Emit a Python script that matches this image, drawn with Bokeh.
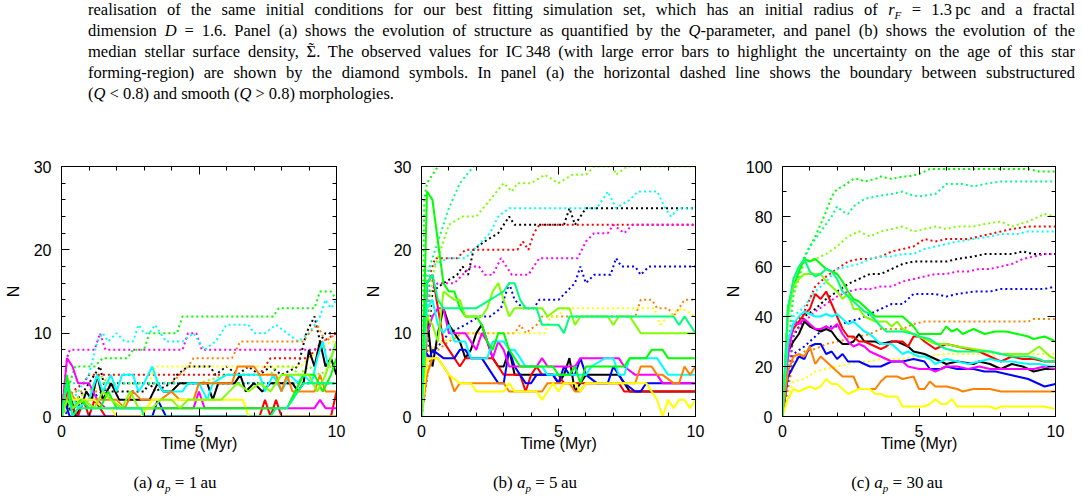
from bokeh.plotting import figure
from bokeh.models import (LinearAxis, SingleIntervalTicker, CustomJSTickFormatter,
                          Range1d, Div)
from bokeh.layouts import column, row
from bokeh.embed import file_html
from bokeh.resources import INLINE

# ---------------------------------------------------------------------------
# Number of stars N against time (Myr); (t, N) samples for each run.
# "_S" = solid line, "_D" = dotted line.
# ---------------------------------------------------------------------------

# ---- panel (a): a_p = 1 au ----
A_BLACK_D = [(0,0),(0.3,1),(0.8,3),(1.2,5),(1.4,6),(1.6,3),(2.6,3),(3.0,3),(3.2,4),(3.4,3),(4.0,4),(4.2,5),(4.6,6),(5.4,6),(5.6,5),(6.0,6),(6.4,5),(6.8,6),(7.2,5),(7.6,6),(8.0,5),(8.6,6),(8.9,10),(9.2,12),(9.4,9),(9.6,10),(10,10)]
A_RED_D = [(0,0),(0.4,3),(0.8,4),(1.0,5),(7.2,5),(7.4,6),(7.6,7),(9.0,7),(9.2,8),(9.5,9),(10,10)]
A_BLUE_D = [(0,0),(0.4,1),(1.0,2),(2.0,4),(10,4)]
A_MAGENTA_D = [(0,0),(0.2,7),(0.3,8),(1.2,8),(1.4,10),(1.6,8),(4.4,8),(4.6,10),(4.9,10),(5.1,8),(10,8)]
A_CYAN_D = [(0,0),(0.4,2),(1.0,5),(1.3,9),(1.5,10),(1.7,9),(2.0,10),(2.3,9),(2.6,9),(2.8,11),(3.0,10),(3.2,10),(3.4,11),(3.6,10),(3.8,9),(4.4,9),(4.8,10),(5.0,9),(5.2,8),(5.6,9),(6.0,11),(6.8,11),(7.0,10),(7.4,10),(7.8,11),(8.2,10),(8.6,9),(9.0,10),(9.4,12),(9.6,14),(9.8,13),(10,14)]
A_ORANGE_D = [(0,0),(0.4,3),(1.4,3),(2.0,4),(4.0,4),(4.6,6),(4.8,7),(6.2,7),(6.5,9),(8.8,9),(9.0,10),(9.3,11),(9.6,9),(10,10)]
A_YELLOW_D = [(0,0),(0.4,2),(1.0,3),(1.6,4),(3.2,4),(3.4,6),(8.7,6),(9.0,7),(9.4,8),(9.8,9),(10,9)]
A_GREEN_D = [(0,0),(0.3,4),(0.5,6),(1.2,6),(1.5,7),(2.4,7),(2.6,8),(3.0,8),(3.2,10),(4.2,10),(4.4,12),(7.7,12),(7.9,13),(9.2,13),(9.4,15),(9.8,15),(10,14)]
A_LIME_D = [(0,0),(0.4,2),(1.0,3),(1.4,5),(1.7,4),(5.0,4),(6.0,5),(7.6,5),(7.8,6),(8.4,6),(8.6,5),(9.0,6),(9.4,5),(9.8,6),(10,6)]
A_SPRING_D = [(0,0),(0.2,4),(10,4)]

A_BLACK_S = [(0,0),(0.1,2),(0.2,1),(0.3,3),(0.5,0),(0.7,1),(0.9,3),(1.1,2),(1.3,5),(1.5,2),(1.8,4),(2.1,2),(3.2,2),(3.5,4),(3.7,3),(4.0,3),(4.3,4),(5.3,4),(5.5,2),(5.7,4),(6.3,4),(6.5,5),(6.7,3),(7.0,4),(7.3,3),(7.6,4),(8.4,4),(8.6,3),(8.8,4),(9.0,8),(9.2,6),(9.4,9),(9.6,6),(9.8,7),(10,5)]
A_RED_S = [(0,0),(0.2,3),(0.4,1),(0.6,0),(0.8,2),(1.0,0),(1.2,2),(1.4,1),(1.6,0),(7.2,0),(7.4,2),(7.6,0),(7.8,2),(8.0,0),(9.8,0),(10,3)]
A_BLUE_S = [(0,0),(0.1,2),(0.3,0),(3.3,0),(3.5,2),(3.8,0),(10,0)]
A_MAGENTA_S = [(0,0),(0.2,7),(0.4,6),(0.6,4),(1.0,4),(1.3,2),(1.6,1),(4.8,1),(5.0,3),(5.2,1),(9.2,1),(9.4,2),(9.6,1),(10,1)]
A_CYAN_S = [(0,0),(0.3,3),(0.6,1),(1.0,2),(1.3,5),(1.5,3),(1.8,5),(2.0,3),(2.2,5),(2.6,5),(2.8,3),(3.0,4),(3.3,6),(3.5,4),(3.7,3),(4.4,3),(4.6,4),(5.0,4),(5.3,2),(5.5,4),(6.0,5),(7.2,5),(7.4,3),(7.7,5),(8.0,3),(8.3,5),(8.6,4),(8.8,5),(9.1,4),(9.3,7),(9.5,9),(9.7,6),(10,9)]
A_ORANGE_S = [(0,0),(0.3,3),(0.5,2),(2.0,2),(2.3,1),(2.6,3),(2.9,2),(3.6,2),(4.0,3),(4.3,2),(4.8,2),(5.0,4),(6.2,4),(6.4,6),(7.0,6),(7.2,5),(7.8,5),(8.0,3),(8.2,5),(8.4,3),(9.2,3),(9.4,5),(9.6,3),(10,3)]
A_YELLOW_S = [(0,0),(0.2,4),(0.4,2),(1.2,2),(1.5,1),(1.8,1),(2.0,0),(2.9,0),(3.3,2),(6.6,2),(6.8,0),(10,0)]
A_GREEN_S = [(0,0),(0.2,5),(0.4,1),(0.7,2),(1.0,1),(1.4,1),(1.7,3),(2.0,1),(8.2,1),(8.5,3),(8.8,5),(9.2,5),(9.5,3),(9.8,5),(10,7)]
A_LIME_S = [(0,0),(0.2,2),(0.4,1),(0.8,2),(1.2,1),(1.5,3),(1.8,2),(2.2,1),(2.5,3),(2.8,1),(3.3,1),(3.6,2),(4.0,2),(4.3,1),(4.6,2),(5.8,2),(6.4,4),(6.8,3),(7.2,4),(7.6,3),(8.0,5),(9.0,5),(9.3,3),(9.6,5),(10,9)]
A_SPRING_S = [(0,0),(0.2,4),(0.4,0),(0.6,1),(2.9,1),(3.0,0),(7.6,0),(7.8,1),(8.2,1),(8.6,3),(8.8,4),(10,4)]

# ---- panel (b): a_p = 5 au ----
B_BLACK_D = [(0,0),(0.4,15),(0.8,16),(1.3,17),(1.5,18),(1.7,17),(1.9,20),(2.3,21),(2.8,22),(3.2,24),(3.4,23),(5.2,23),(5.4,25),(5.6,23),(6.0,25),(10,25)]
B_RED_D = [(0,0),(0.3,17),(0.5,19),(1.3,19),(1.6,20),(3.5,20),(3.7,21),(3.9,20),(4.1,22),(4.3,23),(10,23)]
B_BLUE_D = [(0,0),(0.3,7),(0.5,8),(1.0,10),(1.6,11),(2.1,12),(2.5,12),(2.9,13),(3.2,16),(3.4,14),(3.7,13),(4.1,13),(4.3,14),(5.0,14),(5.3,15),(5.6,16),(5.8,18),(6.0,16),(6.3,17),(6.9,17),(7.1,19),(7.3,18),(7.8,18),(8.0,17),(8.3,18),(10,18)]
B_MAGENTA_D = [(0,0),(0.3,15),(0.6,16),(1.2,16),(1.5,17),(1.8,18),(2.1,18),(2.3,17),(2.6,17),(2.9,19),(3.1,18),(3.3,17),(3.9,17),(4.1,18),(4.3,19),(5.7,19),(6.0,21),(6.3,22),(6.8,22),(7.0,23),(7.4,22),(7.7,23),(10,23)]
B_CYAN_D = [(0,0),(0.3,18),(1.0,19),(1.6,19),(2.5,22),(2.8,24),(3.2,25),(6.4,25),(6.8,27),(7.1,25),(7.6,26),(7.9,27),(8.6,27),(8.9,25),(9.1,24),(9.4,25),(10,25)]
B_ORANGE_D = [(0,0),(0.3,8),(0.6,8),(1.0,9),(1.5,10),(3.4,10),(3.6,11),(3.8,10),(4.2,11),(4.4,12),(7.8,12),(8.0,14),(8.4,14),(8.6,13),(9.0,13),(9.2,12),(9.6,14),(10,14)]
B_YELLOW_D = [(0,0),(0.3,8),(0.8,9),(1.5,10),(4.5,10),(4.7,12),(5.0,12),(5.2,13),(8.5,13),(8.7,11),(9.0,12),(9.5,13),(10,12)]
B_GREEN_D = [(0,0),(0.1,26),(0.2,28),(0.4,29),(0.6,30),(1.0,33)]
B_LIME_D = [(0,0),(0.4,17),(0.8,21),(1.0,23),(1.5,24),(2.0,24),(2.5,26),(3.0,28),(3.3,27),(3.5,28),(4.0,28),(4.5,29),(5.0,28),(5.5,29),(6.0,29),(6.3,30),(7.0,30),(7.1,29),(7.5,30),(10,30)]
B_SPRING_D = [(0,0),(0.2,17),(0.6,21),(1.0,25),(1.4,28),(1.9,30),(2.2,31)]

B_BLACK_S = [(0,0),(0.2,12),(0.4,6),(0.6,10),(0.8,13),(1.0,11),(1.2,10),(1.4,9),(1.6,7),(1.8,8),(2.0,10),(2.2,11),(2.4,9),(2.6,7),(2.8,6),(3.0,6),(3.2,8),(3.4,5),(4.8,5),(5.0,4),(5.2,5),(5.4,7),(5.6,3),(5.8,4),(6.0,5),(7.2,5),(7.6,3),(10,3)]
B_RED_S = [(0,0),(0.2,16),(0.4,17),(0.6,13),(0.8,9),(1.0,8),(1.2,7),(1.4,6),(1.6,7),(2.6,7),(2.8,6),(3.0,5),(3.6,5),(3.8,3),(4.0,5),(4.2,6),(4.4,5),(5.0,5),(5.2,4),(7.2,4),(7.4,3),(10,3)]
B_BLUE_S = [(0,0),(0.1,8),(0.3,7),(0.4,8),(0.8,7),(1.2,7),(1.4,8),(1.6,8),(1.8,7),(2.2,7),(2.6,5),(2.8,4),(3.0,4),(3.2,8),(3.4,6),(3.6,5),(3.8,4),(4.0,4),(4.2,5),(4.8,5),(5.0,4),(5.2,6),(5.4,5),(5.6,5),(5.8,7),(6.0,5),(6.4,4),(6.8,4),(7.0,6),(7.4,4),(7.8,3),(8.0,3),(8.2,4),(10,4)]
B_MAGENTA_S = [(0,0),(0.2,10),(0.4,12),(0.6,13),(0.8,13),(1.0,10),(1.6,10),(2.0,8),(2.2,10),(2.4,9),(2.6,7),(2.8,9),(3.0,8),(3.2,6),(4.2,6),(4.4,7),(4.6,6),(5.6,6),(5.8,7),(7.2,7),(7.4,6),(7.8,5),(8.6,5),(8.8,4),(10,4)]
B_CYAN_S = [(0,0),(0.2,13),(0.4,14),(0.6,11),(0.8,10),(1.0,11),(1.2,9),(1.6,9),(1.8,7),(2.4,7),(2.6,9),(3.0,9),(3.2,8),(3.4,8),(3.6,7),(3.8,6),(4.4,6),(4.6,5),(6.0,5),(6.2,6),(6.7,7),(7.0,7),(7.2,5),(7.4,5),(7.6,7),(8.6,7),(9.0,5),(10,5)]
B_ORANGE_S = [(0,0),(0.2,5),(0.4,7),(0.6,7),(0.8,6),(1.0,5),(1.2,3),(1.4,4),(3.0,4),(3.2,3),(4.4,3),(4.6,4),(5.4,4),(5.6,3),(5.8,3),(6.0,4),(7.8,4),(8.0,6),(8.4,6),(8.6,5),(8.8,5),(9.2,4),(9.4,4),(9.6,6),(9.8,5),(10,6)]
B_YELLOW_S = [(0,0),(0.2,7),(0.6,7),(0.8,6),(1.0,5),(1.4,4),(1.8,4),(2.0,3),(3.0,3),(3.2,4),(3.4,3),(4.2,3),(4.4,2),(4.6,3),(4.8,4),(5.0,3),(5.2,4),(5.6,4),(5.8,3),(6.0,4),(8.2,4),(8.4,3),(8.6,2),(8.8,0),(9.0,2),(9.2,1),(9.4,2),(9.6,2),(9.8,1),(10,2)]
B_GREEN_S = [(0,0),(0.2,27),(0.4,26),(0.6,21),(0.8,16),(1.0,15),(1.2,15),(1.4,13),(1.6,12),(2.0,12),(2.2,11),(2.4,9),(2.6,8),(2.8,10),(3.0,10),(3.2,8),(3.4,7),(3.6,6),(4.8,6),(5.0,5),(5.4,5),(5.6,6),(5.8,4),(6.0,6),(7.4,6),(7.6,7),(8.2,7),(8.4,8),(8.8,8),(9.0,7),(10,7)]
B_LIME_S = [(0,0),(0.2,12),(0.4,11),(0.6,9),(0.8,15),(1.2,14),(1.4,14),(1.6,12),(2.2,12),(2.4,13),(2.6,15),(2.8,16),(3.0,14),(3.2,12),(3.4,13),(4.4,13),(4.6,12),(5.0,13),(5.4,13),(5.6,11),(5.8,12),(6.8,12),(7.0,11),(7.2,12),(7.6,12),(7.8,11),(8.0,10),(10,10)]
B_SPRING_S = [(0,0),(0.2,16),(0.4,17),(0.6,14),(0.8,13),(2.0,13),(2.5,14),(3.0,15),(3.2,16),(3.4,16),(3.6,14),(3.8,13),(4.2,13),(4.4,11),(5.0,11),(5.2,10),(5.4,12),(9.2,12),(9.4,11),(9.6,12),(10,10)]

# ---- panel (c): a_p = 30 au ----
C_BLACK_D = [(0,0),(0.4,32),(0.8,40),(1.2,43),(1.6,47),(2.0,50),(2.4,53),(2.8,55),(3.2,57),(3.6,57),(4.0,59),(4.4,61),(4.8,62),(6.0,62),(6.4,63),(7.0,64),(7.4,65),(8.4,65),(8.8,66),(9.2,65),(10,65)]
C_RED_D = [(0,0),(0.4,36),(0.8,42),(1.2,52),(1.6,56),(2.0,59),(2.4,62),(2.8,63),(3.2,63),(3.6,64),(4.0,66),(4.4,67),(4.8,68),(5.2,71),(5.6,70),(6.0,71),(6.8,71),(7.2,72),(7.6,73),(8.0,74),(8.4,75),(9.0,76),(10,76)]
C_BLUE_D = [(0,0),(0.4,25),(0.8,28),(1.2,32),(1.6,36),(2.0,36),(2.4,38),(2.8,39),(3.2,41),(3.6,43),(4.0,45),(4.4,45),(4.8,49),(5.6,49),(6.0,48),(6.4,49),(7.0,50),(7.6,50),(8.0,51),(9.6,51),(10,52)]
C_MAGENTA_D = [(0,0),(0.4,33),(0.8,38),(1.2,42),(1.6,45),(2.0,48),(2.4,50),(2.8,51),(3.2,51),(3.6,52),(4.0,52),(4.4,54),(4.8,55),(5.2,56),(5.6,57),(6.0,57),(6.4,58),(6.8,58),(7.2,59),(7.6,59),(8.0,60),(8.4,61),(8.8,63),(9.2,64),(9.6,65),(10,65)]
C_CYAN_D = [(0,0),(0.4,40),(0.8,44),(1.2,50),(1.6,54),(2.0,59),(2.4,60),(2.8,61),(3.2,63),(3.6,64),(4.0,64),(4.4,65),(4.8,65),(5.2,67),(5.6,68),(6.0,69),(6.4,70),(7.0,71),(7.6,72),(8.0,73),(8.6,73),(9.0,74),(10,74)]
C_ORANGE_D = [(0,0),(0.4,22),(0.8,26),(1.2,27),(1.6,29),(2.0,30),(2.4,31),(2.8,32),(3.2,33),(3.6,35),(4.4,35),(4.8,37),(5.2,38),(9.0,38),(9.2,39),(10,39)]
C_YELLOW_D = [(0,0),(0.4,14),(0.8,15),(1.2,18),(1.6,19),(2.0,20),(2.4,21),(2.8,22),(3.2,22),(3.6,23),(4.4,23),(4.8,24),(5.2,24),(6.0,25),(10,25)]
C_GREEN_D = [(0,0),(0.2,43),(0.4,50),(0.6,57),(0.8,64),(1.0,68),(1.2,72),(1.4,77),(1.6,82),(1.8,88),(2.0,91),(2.2,92),(2.6,95),(2.8,95),(3.0,94),(3.4,95),(3.6,96),(4.0,95),(4.4,96),(4.6,96),(5.0,97),(5.4,99),(9.0,99),(9.4,98),(10,98)]
C_LIME_D = [(0,0),(0.4,48),(0.8,62),(1.2,63),(1.6,65),(2.0,68),(2.4,72),(2.8,74),(3.2,72),(3.6,74),(4.0,75),(4.4,76),(4.8,74),(5.2,75),(5.6,76),(6.0,75),(6.4,76),(7.0,76),(7.4,77),(8.0,78),(8.4,76),(9.0,78),(9.6,81),(10,80)]
C_SPRING_D = [(0,0),(0.4,50),(0.8,63),(1.0,68),(1.4,74),(1.8,80),(2.0,84),(2.2,82),(2.4,81),(2.6,84),(3.0,87),(3.4,88),(4.0,89),(4.4,90),(4.6,89),(5.0,88),(5.6,89),(6.0,93),(6.6,93),(7.0,92),(7.4,93),(8.0,94),(10,94)]

C_BLACK_S = [(0,0),(0.2,26),(0.4,30),(0.6,33),(0.8,38),(1.0,36),(1.2,35),(1.4,34),(1.6,35),(1.8,34),(2.0,31),(2.2,29),(2.4,29),(2.6,30),(2.8,33),(3.0,30),(3.4,30),(3.6,29),(4.0,30),(4.2,30),(4.6,28),(4.8,26),(5.2,25),(5.6,23),(6.0,21),(6.4,22),(7.0,21),(7.2,22),(7.6,21),(8.0,19),(8.4,21),(8.8,20),(9.2,18),(9.6,19),(10,19)]
C_RED_S = [(0,0),(0.2,30),(0.4,35),(0.6,38),(0.8,41),(1.0,43),(1.2,49),(1.4,47),(1.6,50),(1.8,45),(2.0,40),(2.2,35),(2.4,32),(2.6,32),(2.8,30),(3.0,30),(3.4,28),(3.6,27),(3.8,28),(4.0,30),(4.4,30),(4.6,28),(4.8,32),(5.0,32),(5.2,30),(5.6,27),(6.0,29),(6.4,28),(6.8,27),(7.2,26),(7.6,24),(8.0,22),(8.4,24),(8.8,23),(9.2,23),(9.6,22),(10,22)]
C_BLUE_S = [(0,0),(0.2,16),(0.4,20),(0.6,24),(0.8,23),(1.0,28),(1.2,29),(1.4,29),(1.6,25),(1.8,26),(2.0,23),(2.2,25),(2.4,22),(2.8,22),(3.2,20),(3.6,20),(4.0,22),(4.4,22),(4.8,23),(5.2,22),(5.4,19),(5.8,19),(6.0,20),(6.4,19),(7.0,19),(7.4,18),(7.8,18),(8.2,17),(8.6,16),(9.0,15),(9.2,14),(9.6,12),(10,13)]
C_MAGENTA_S = [(0,0),(0.2,24),(0.4,37),(0.6,37),(0.8,39),(1.0,37),(1.2,35),(1.4,35),(1.6,36),(1.8,35),(2.0,37),(2.2,33),(2.4,30),(2.6,28),(2.8,29),(3.0,28),(3.2,26),(3.6,24),(4.0,22),(4.4,22),(4.6,20),(5.0,19),(5.4,19),(5.6,18),(6.0,20),(6.4,20),(6.8,19),(7.2,20),(7.6,19),(9.2,19),(9.6,20),(10,19)]
C_CYAN_S = [(0,0),(0.2,30),(0.4,37),(0.6,40),(0.8,42),(1.0,41),(1.2,40),(1.4,40),(1.6,41),(1.8,40),(2.0,41),(2.2,39),(2.4,37),(2.6,38),(2.8,36),(3.0,34),(3.2,33),(3.6,29),(4.0,29),(4.2,27),(4.4,25),(4.6,26),(5.0,24),(5.2,24),(5.4,23),(5.6,21),(5.8,22),(6.0,23),(6.4,22),(6.8,21),(7.2,22),(7.6,23),(8.0,22),(8.4,22),(9.0,21),(9.4,21),(9.8,20),(10,20)]
C_ORANGE_S = [(0,0),(0.2,18),(0.4,24),(0.6,25),(0.8,24),(1.0,28),(1.2,21),(1.4,24),(1.6,22),(1.8,20),(2.0,18),(2.2,16),(2.6,16),(2.8,11),(3.4,11),(3.6,14),(3.8,16),(4.2,16),(4.4,15),(4.8,16),(5.0,11),(5.2,11),(5.4,14),(5.6,12),(6.0,12),(6.4,11),(6.6,10),(7.0,11),(7.6,11),(8.0,10),(10,10)]
C_YELLOW_S = [(0,0),(0.2,7),(0.4,11),(0.6,10),(0.8,11),(1.0,12),(1.2,11),(1.4,12),(1.6,15),(1.8,13),(2.0,13),(2.2,11),(2.4,9),(2.6,10),(2.8,11),(3.2,11),(3.4,9),(3.6,9),(3.8,8),(4.2,8),(4.4,4),(5.2,4),(5.4,5),(5.6,7),(5.8,5),(6.0,5),(6.2,7),(6.4,4),(7.6,4),(7.8,3),(8.0,4),(9.6,4),(10,3)]
C_GREEN_S = [(0,0),(0.2,44),(0.4,52),(0.6,58),(0.8,63),(1.0,62),(1.2,63),(1.4,61),(1.6,59),(1.8,58),(2.0,57),(2.2,54),(2.4,50),(2.6,47),(2.8,46),(3.0,44),(3.2,42),(3.4,40),(4.4,40),(4.6,38),(4.8,36),(5.0,33),(5.8,33),(6.0,36),(6.2,34),(6.4,35),(6.6,33),(7.0,35),(7.4,33),(7.8,34),(8.2,34),(8.6,33),(9.0,32),(9.2,31),(9.6,32),(10,30)]
C_LIME_S = [(0,0),(0.2,40),(0.4,52),(0.6,55),(0.8,57),(1.4,57),(1.6,54),(1.8,52),(2.0,50),(2.2,47),(2.4,49),(2.6,43),(2.8,43),(3.0,40),(3.4,38),(3.8,38),(4.0,36),(4.2,38),(4.4,35),(4.8,33),(5.2,31),(5.6,29),(6.0,29),(6.4,28),(7.0,27),(7.6,26),(8.0,25),(9.0,25),(9.4,28),(9.8,24),(10,23)]
C_SPRING_S = [(0,0),(0.2,43),(0.4,55),(0.6,60),(0.8,63),(1.0,58),(1.2,56),(1.4,57),(1.6,59),(1.8,58),(2.0,55),(2.2,50),(2.4,48),(2.6,46),(2.8,44),(3.0,42),(3.2,41),(3.6,36),(3.8,34),(4.4,34),(4.8,33),(5.0,32),(5.4,31),(5.8,28),(6.0,27),(6.4,26),(7.6,26),(8.0,25),(8.4,24),(9.0,24),(9.4,23),(9.6,22),(10,22)]

# line colours shared by all panels
COLOURS = {
    "black": "#000000", "red": "#ff0000", "blue": "#0000ff", "magenta": "#ff00ff",
    "cyan": "#00ffff", "orange": "#ff8000", "yellow": "#ffff00", "green": "#00ff00",
    "lime": "#80ff00", "spring": "#00ff80",
}

PANEL_A = {
    "dotted": [("black", A_BLACK_D), ("red", A_RED_D), ("blue", A_BLUE_D), ("magenta", A_MAGENTA_D),
               ("cyan", A_CYAN_D), ("orange", A_ORANGE_D), ("yellow", A_YELLOW_D), ("green", A_GREEN_D),
               ("lime", A_LIME_D), ("spring", A_SPRING_D)],
    "solid": [("black", A_BLACK_S), ("red", A_RED_S), ("blue", A_BLUE_S), ("magenta", A_MAGENTA_S),
              ("cyan", A_CYAN_S), ("orange", A_ORANGE_S), ("yellow", A_YELLOW_S), ("green", A_GREEN_S),
              ("lime", A_LIME_S), ("spring", A_SPRING_S)],
}
PANEL_B = {
    "dotted": [("black", B_BLACK_D), ("red", B_RED_D), ("blue", B_BLUE_D), ("magenta", B_MAGENTA_D),
               ("cyan", B_CYAN_D), ("orange", B_ORANGE_D), ("yellow", B_YELLOW_D), ("green", B_GREEN_D),
               ("lime", B_LIME_D), ("spring", B_SPRING_D)],
    "solid": [("black", B_BLACK_S), ("red", B_RED_S), ("blue", B_BLUE_S), ("magenta", B_MAGENTA_S),
              ("cyan", B_CYAN_S), ("orange", B_ORANGE_S), ("yellow", B_YELLOW_S), ("green", B_GREEN_S),
              ("lime", B_LIME_S), ("spring", B_SPRING_S)],
}
PANEL_C = {
    "dotted": [("black", C_BLACK_D), ("red", C_RED_D), ("blue", C_BLUE_D), ("magenta", C_MAGENTA_D),
               ("cyan", C_CYAN_D), ("orange", C_ORANGE_D), ("yellow", C_YELLOW_D), ("green", C_GREEN_D),
               ("lime", C_LIME_D), ("spring", C_SPRING_D)],
    "solid": [("black", C_BLACK_S), ("red", C_RED_S), ("blue", C_BLUE_S), ("magenta", C_MAGENTA_S),
              ("cyan", C_CYAN_S), ("orange", C_ORANGE_S), ("yellow", C_YELLOW_S), ("green", C_GREEN_S),
              ("lime", C_LIME_S), ("spring", C_SPRING_S)],
}

AXIS_FONT = "Liberation Sans"
BLANK = CustomJSTickFormatter(code="return ''")


def style_axis(ax, labels=True):
    ax.axis_line_color = "black"
    ax.axis_line_width = 1
    ax.major_tick_line_color = "black"
    ax.minor_tick_line_color = "black"
    ax.major_tick_in = 8
    ax.major_tick_out = 0
    ax.minor_tick_in = 4
    ax.minor_tick_out = 0
    ax.major_label_text_font = AXIS_FONT
    ax.major_label_text_font_size = "16px"
    ax.major_label_text_color = "black"
    ax.axis_label_text_font = AXIS_FONT
    ax.axis_label_text_font_size = "16px"
    ax.axis_label_text_font_style = "normal"
    ax.axis_label_text_color = "black"
    if not labels:
        ax.formatter = BLANK
        ax.major_label_standoff = 0


def make_panel(panel, ymax, ymajor, yminor, left, frame_w, right, n_standoff):
    p = figure(frame_width=frame_w, frame_height=250,
               min_border_left=left, min_border_right=right,
               min_border_top=16, min_border_bottom=44,
               x_range=Range1d(0, 10), y_range=Range1d(0, ymax),
               output_backend="svg", toolbar_location=None,
               x_axis_location=None, y_axis_location=None)
    p.xgrid.visible = False
    p.ygrid.visible = False
    p.outline_line_color = "black"
    p.outline_line_width = 1
    p.background_fill_color = "white"
    p.border_fill_color = "white"

    xt = SingleIntervalTicker(interval=5, num_minor_ticks=5)
    yt = SingleIntervalTicker(interval=ymajor, num_minor_ticks=yminor)

    xb = LinearAxis(ticker=xt, axis_label="Time (Myr)")
    style_axis(xb)
    xb.major_label_standoff = 8
    xb.axis_label_standoff = -5
    p.add_layout(xb, "below")

    xa = LinearAxis(ticker=xt)
    style_axis(xa, labels=False)
    p.add_layout(xa, "above")

    yl = LinearAxis(ticker=yt, axis_label="N")
    style_axis(yl)
    yl.major_label_standoff = 10
    yl.axis_label_standoff = n_standoff
    p.add_layout(yl, "left")

    yr = LinearAxis(ticker=yt)
    style_axis(yr, labels=False)
    p.add_layout(yr, "right")

    for name, pts in panel["dotted"]:
        p.line([t for t, _ in pts], [n for _, n in pts], line_color=COLOURS[name],
               line_width=2, line_dash="2 3")
    for name, pts in panel["solid"]:
        p.line([t for t, _ in pts], [n for _, n in pts], line_color=COLOURS[name],
               line_width=2)
    return p


fig_a = make_panel(PANEL_A, 30, 10, 5, 61, 275, 24, 9)
fig_b = make_panel(PANEL_B, 30, 10, 5, 61, 274, 25, 9)
fig_c = make_panel(PANEL_C, 100, 20, 2, 62, 273, 27, 1)

# ---- caption text above the panels ----
SIGMA_TILDE = ("<span style='position:relative;display:inline-block;line-height:21px;'>&Sigma;"
               "<span style='position:absolute;left:2px;top:-3px;line-height:21px;'>&#732;</span></span>")
LINES = [
    "realisation of the same initial conditions for our best fitting simulation set, which has an initial radius of <i>r<sub style='font-size:11px'>F</sub></i> = 1.3&#8201;pc and a fractal",
    "dimension <i>D</i> = 1.6. Panel (a) shows the evolution of structure as quantified by the <i>Q</i>-parameter, and panel (b) shows the evolution of the",
    f"median stellar surface density, {SIGMA_TILDE}. The observed values for IC&#8201;348 (with large error bars to highlight the uncertainty on the age of this star",
    "forming-region) are shown by the diamond symbols. In panel (a) the horizontal dashed line shows the boundary between substructured",
    "(<i>Q</i> &lt; 0.8) and smooth (<i>Q</i> &gt; 0.8) morphologies.",
]
body = "".join(
    f"<div style='text-align:justify;text-align-last:{'justify' if i < len(LINES) - 1 else 'left'};"
    f"height:21px;white-space:nowrap;'>{ln}</div>"
    for i, ln in enumerate(LINES))
para = Div(
    text=(f"<div style=\"position:relative;top:-1px;margin-left:88px;width:987px;"
          f"font-family:'Liberation Serif';font-size:16.5px;line-height:21px;color:#000;\">{body}</div>"),
    width=1082, height=150, margin=0)

# ---- sub-figure captions ----
SUBCAPTIONS = [("(a)", "1"), ("(b)", "5"), ("(c)", "30")]
CAPTION_X = [175, 535, 897]
spans = "".join(
    f"<span style=\"position:absolute;left:{x}px;top:11px;transform:translateX(-50%);white-space:nowrap;\">"
    f"{tag} <i>a<sub style='font-size:11px'>p</sub></i> = {val}&#8201;au</span>"
    for (tag, val), x in zip(SUBCAPTIONS, CAPTION_X))
captions = Div(
    text=(f"<div style=\"position:relative;width:1082px;height:38px;font-family:'Liberation Serif';"
          f"font-size:17px;color:#000;\">{spans}</div>"),
    width=1082, height=38, margin=0)

layout = column(para, row(fig_a, fig_b, fig_c, spacing=0, margin=0), captions,
                spacing=0, margin=0)

open("out.html", "w").write(file_html(layout, INLINE))
